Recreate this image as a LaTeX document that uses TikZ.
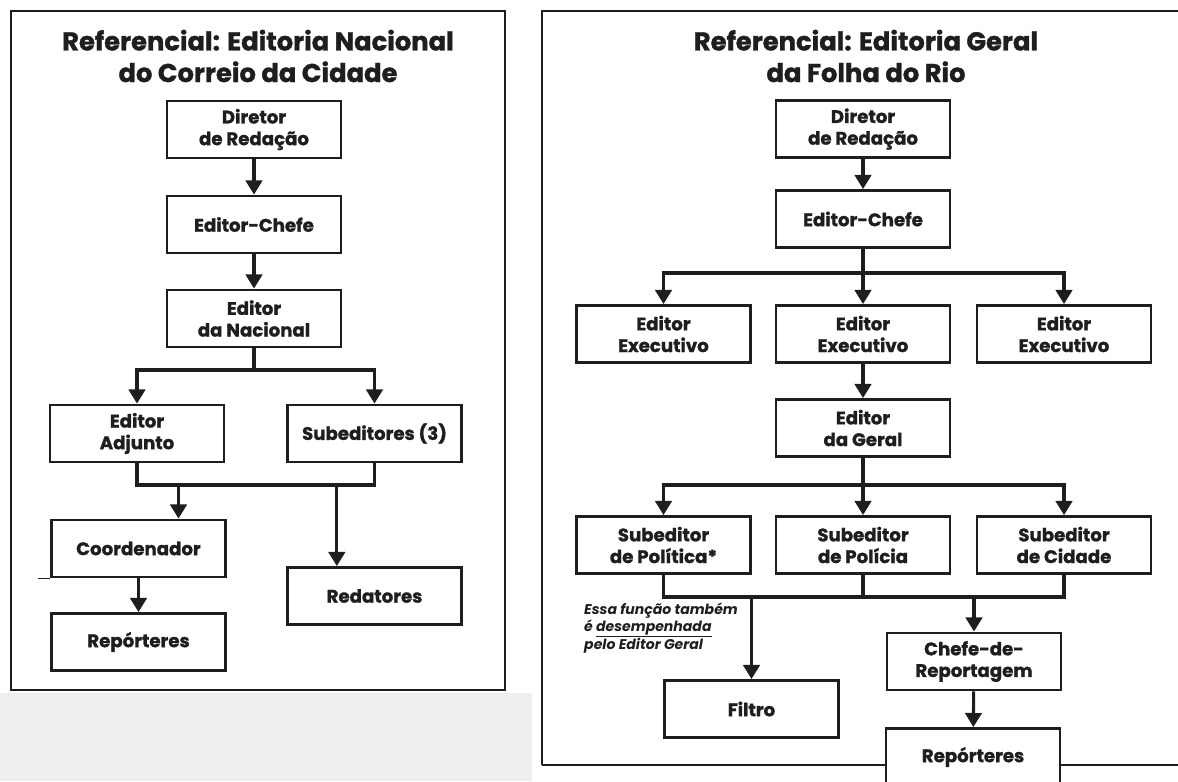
\documentclass[tikz,border=0pt]{standalone}
\usepackage{fontspec}
\setmainfont{Poppins}[BoldFeatures={FakeBold=1.2}]
\usetikzlibrary{arrows.meta,positioning}
\definecolor{ink}{RGB}{30,30,30}

\begin{document}
\begin{tikzpicture}[x=0.03cm, y=-0.03cm, ink,
    box/.style={draw, fill=white, line width=2.2pt, align=center, inner sep=0pt,
        minimum width=5.22cm, minimum height=1.72cm,
        font=\fontsize{15.5}{18.5}\selectfont\bfseries},
    arr/.style={line width=2.6pt, -{Triangle[width=14pt,length=12pt]}},
    link/.style={line width=2.6pt},
    frame/.style={line width=1.6pt},
    title/.style={align=center, font=\fontsize{22}{27}\selectfont\bfseries},
    note/.style={align=left, inner sep=0pt, font=\fontsize{12}{14}\selectfont\bfseries\itshape}]
    \useasboundingbox (0,0) rectangle (1178,781);
    \fill[gray!13] (0,693) rectangle (532,781);

    % frames
    \draw[frame] (11,11) rectangle (505,690);
    \draw[frame] (542,765) -- (542,11) -- (1190,11);
    \draw[frame] (542,765) -- (1190,765);

    % left chart
    \node[title] (titleL) at (258,56) {Referencial: Editoria Nacional\\do Correio da Cidade};
    \node[box] (dirL) at (254,129.5) {Diretor\\de Redação};
    \node[box] (chefeL) at (254,224.5) {Editor-Chefe};
    \node[box] (nacL) at (254,318.5) {Editor\\da Nacional};
    \node[box] (adjL) at (137,433.5) {Editor\\Adjunto};
    \node[box] (subL) at (374.5,433.5) {Subeditores (3)};
    \node[box] (coordL) at (138.5,548.5) {Coordenador};
    \node[box] (repL) at (138.5,642) {Repórteres};
    \node[box] (redL) at (374.5,596) {Redatores};
    \draw[frame] (coordL.south west) -- ++(-12,0);

    \coordinate (jL) at (254,370);
    \coordinate (bL) at (258,485);
    \coordinate (cL) at ([xshift=1.2cm]coordL.north);
    \coordinate (rL) at ([xshift=-1.13cm]redL.north);

    \draw[arr] (dirL) -- (chefeL);
    \draw[arr] (chefeL) -- (nacL);
    \draw[link] (nacL) -- (jL);
    \draw[arr] (jL) -| (adjL);
    \draw[arr] (jL) -| (subL);
    \draw[link] (adjL) |- (bL) -| (subL);
    \draw[arr] (cL |- bL) -- (cL);
    \draw[arr] (rL |- bL) -- (rL);
    \draw[arr] (coordL) -- (repL);

    % right chart
    \node[title] (titleR) at (866,56) {Referencial: Editoria Geral\\da Folha do Rio};
    \node[box] (dirR) at (863,129) {Diretor\\de Redação};
    \node[box] (chefeR) at (863,219) {Editor-Chefe};
    \node[box] (ex1) at (663.5,334) {Editor\\Executivo};
    \node[box] (ex2) at (863,334) {Editor\\Executivo};
    \node[box] (ex3) at (1064,334) {Editor\\Executivo};
    \node[box] (geral) at (863,428) {Editor\\da Geral};
    \node[box] (pol) at (663.5,545) {Subeditor\\de Política*};
    \node[box] (poli) at (863,545) {Subeditor\\de Polícia};
    \node[box] (cid) at (1064,545) {Subeditor\\de Cidade};
    \node[box] (filtro) at (751.5,709) {Filtro};
    \node[box] (reportagem) at (974,661.5) {Chefe-de-\\Reportagem};
    \node[box] (repR) at (973,757) {Repórteres};
    \node[note, anchor=north west] (nota) at (584,603)
        {Essa função também\\é \underline{desempenhada}\\pelo Editor Geral};

    \coordinate (jR) at (863,273);
    \coordinate (kR) at (863,485);
    \coordinate (mR) at (863,597);

    \draw[arr] (dirR) -- (chefeR);
    \draw[link] (chefeR) -- (jR);
    \draw[arr] (jR) -| (ex1);
    \draw[arr] (jR) -- (ex2);
    \draw[arr] (jR) -| (ex3);
    \draw[arr] (ex2) -- (geral);
    \draw[link] (geral) -- (kR);
    \draw[arr] (kR) -| (pol);
    \draw[arr] (kR) -- (poli);
    \draw[arr] (kR) -| (cid);
    \draw[link] (pol) |- (mR) -| (cid);
    \draw[link] (poli) -- (mR);
    \draw[arr] (filtro.north |- mR) -- (filtro);
    \draw[arr] (reportagem.north |- mR) -- (reportagem);
    \draw[arr] (reportagem) -- (repR);
\end{tikzpicture}
\end{document}
